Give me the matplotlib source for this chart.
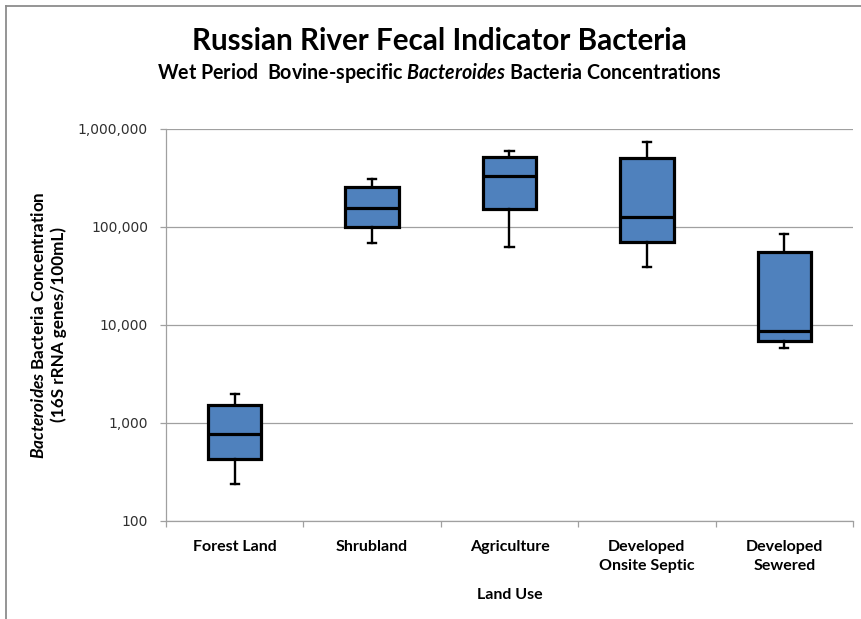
import matplotlib
matplotlib.use("Agg")
import matplotlib.pyplot as plt
from matplotlib.ticker import FixedLocator, FuncFormatter, NullLocator

plt.rcParams['font.family'] = ['Lato', 'DejaVu Sans']
plt.rcParams['mathtext.fontset'] = 'custom'
plt.rcParams['mathtext.it'] = 'Lato:italic:bold'
plt.rcParams['mathtext.rm'] = 'Lato:bold'

# land use categories and box plot statistics (16S rRNA genes/100mL)
land_use = ["Forest Land", "Shrubland", "Agriculture",
            "Developed\nOnsite Septic", "Developed\nSewered"]
whisker_low = [236, 67600, 62400, 39000, 5830]
quart_1 = [428, 99800, 152000, 70200, 6870]
median = [763, 154000, 330000, 124000, 8690]
quart_3 = [1510, 251000, 516000, 497000, 55500]
whisker_high = [1970, 308000, 594000, 723000, 84100]

y_ticks = [100, 1000, 10000, 100000, 1000000]

fig = plt.figure(figsize=(8.62, 6.19), dpi=100)
ax = fig.add_axes([166/862, 1 - 521/619, 687/862, 392.5/619])

stats = []
for i in range(len(land_use)):
    stats.append(dict(med=median[i], q1=quart_1[i], q3=quart_3[i],
                      whislo=whisker_low[i], whishi=whisker_high[i],
                      fliers=[], label=land_use[i]))

pos = list(range(len(land_use)))
ax.bxp(stats, positions=pos, widths=0.39, patch_artist=True, showfliers=False,
       boxprops=dict(facecolor='#4f81bd', edgecolor='black', linewidth=2.3),
       medianprops=dict(color='black', linewidth=2.3),
       whiskerprops=dict(color='black', linewidth=1.7),
       capprops=dict(color='black', linewidth=1.7), capwidths=0.06,
       zorder=3)

ax.set_yscale('log')
ax.set_ylim(100, 1000000)
ax.set_xlim(-0.5, len(land_use) - 0.5)
ax.yaxis.set_major_locator(FixedLocator(y_ticks))
ax.yaxis.set_minor_locator(NullLocator())
ax.yaxis.set_major_formatter(FuncFormatter(lambda v, p: f"{int(round(v)):,}"))
ax.grid(axis='y', color='#a0a0a0', linewidth=0.9, zorder=0)

# labels at category centres, ticks on category boundaries
ax.set_xticks(pos)
ax.set_xticklabels(land_use, fontweight='bold', fontsize=11.5, linespacing=1.4)
ax.set_xticks([p - 0.5 for p in pos] + [pos[-1] + 0.5], minor=True)
ax.tick_params(axis='x', which='major', length=0, pad=14)
ax.tick_params(axis='x', which='minor', length=4, color='#a0a0a0', width=0.9)
ax.tick_params(axis='y', length=4, color='#a0a0a0', width=0.9, pad=9,
               labelsize=10)
for lbl in ax.get_yticklabels():
    lbl.set_family('DejaVu Sans')
    lbl.set_color('#303030')

for side in ['top', 'right']:
    ax.spines[side].set_visible(False)
for side in ['left', 'bottom']:
    ax.spines[side].set_color('#a0a0a0')
    ax.spines[side].set_linewidth(0.9)

ax.set_xlabel("Land Use", fontweight='bold', fontsize=11.5, labelpad=11)
ax.set_ylabel("$Bacteroides$ Bacteria Concentration\n(16S rRNA genes/100mL)",
              fontweight='bold', fontsize=12.3, labelpad=8, linespacing=1.25)

title_x = 439 / 862
fig.text(title_x, 1 - 41/619, "Russian River Fecal Indicator Bacteria",
         ha='center', va='center', fontsize=21.3, fontweight='bold')
fig.text(title_x, 1 - 73/619,
         "Wet Period  Bovine-specific $Bacteroides$ Bacteria Concentrations",
         ha='center', va='center', fontsize=14.1, fontweight='bold')

# chart area border (left and top edges)
fig.add_artist(plt.Line2D([6.5/862, 6.5/862], [0, 1 - 5.5/619],
                          color='#8c8c8c', linewidth=1.3))
fig.add_artist(plt.Line2D([6.5/862, 1], [1 - 5.5/619, 1 - 5.5/619],
                          color='#8c8c8c', linewidth=1.3))

fig.savefig("out.png", dpi=100)
